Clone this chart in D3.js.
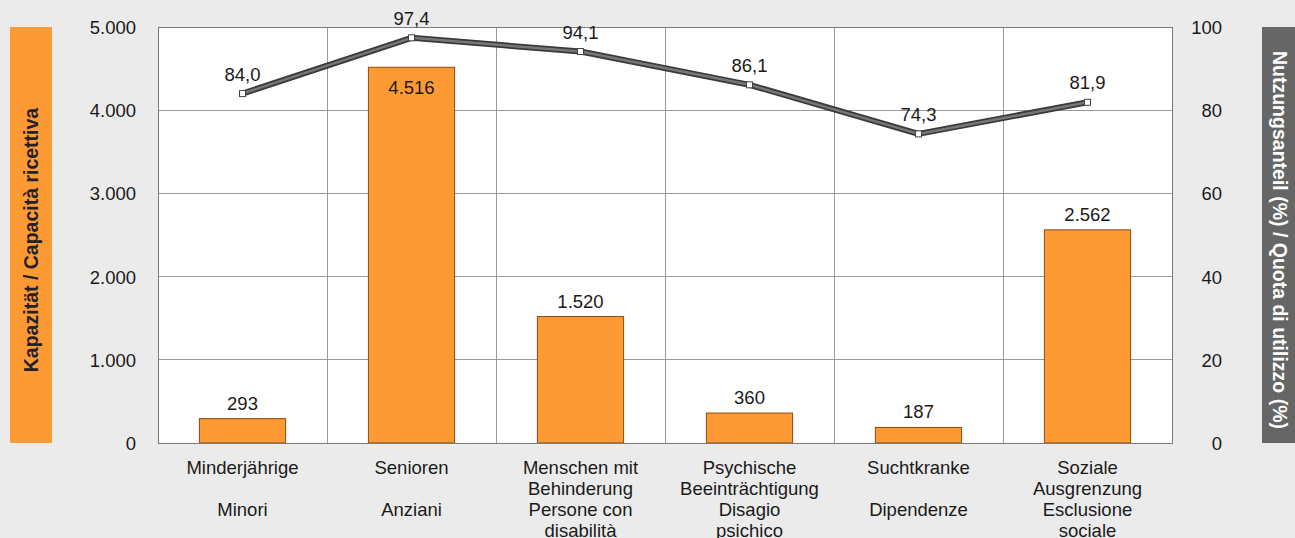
<!DOCTYPE html>
<html><head><meta charset="utf-8">
<script src="https://cdn.jsdelivr.net/npm/d3@7"></script>
<style>
html,body{margin:0;padding:0;background:#ebebeb;}
svg{display:block;font-family:"Liberation Sans",Arial,sans-serif;}
</style></head>
<body>
<svg id="c" width="1295" height="538"></svg>
<script>
const categories = [
  ["Minderjährige","","Minori"],
  ["Senioren","","Anziani"],
  ["Menschen mit","Behinderung","Persone con","disabilità"],
  ["Psychische","Beeinträchtigung","Disagio","psichico"],
  ["Suchtkranke","","Dipendenze"],
  ["Soziale","Ausgrenzung","Esclusione","sociale"]
];
const capacity = [293, 4516, 1520, 360, 187, 2562];
const usage = [84.0, 97.4, 94.1, 86.1, 74.3, 81.9];
const leftTicks = [0, 1000, 2000, 3000, 4000, 5000];
const rightTicks = [0, 20, 40, 60, 80, 100];
const leftTitle = "Kapazität / Capacità ricettiva";
const rightTitle = "Nutzungsanteil (%) / Quota di utilizzo (%)";

const FS = 18.5;
const svg = d3.select("#c");
const m = {l:158, r:1172, t:27, b:443};
const fmtInt = v => d3.format(",")(v).replace(/,/g,".");
const fmtDec = v => d3.format(".1f")(v).replace(".",",");

const x = d3.scaleBand().domain(d3.range(categories.length)).range([m.l,m.r]).paddingInner(0).paddingOuter(0);
const y = d3.scaleLinear().domain([0,5000]).range([m.b,m.t]);
const y2 = d3.scaleLinear().domain([0,100]).range([m.b,m.t]);

svg.append("rect").attr("x",m.l).attr("y",m.t).attr("width",m.r-m.l).attr("height",m.b-m.t).attr("fill","#fff");

svg.append("g").selectAll("line").data(leftTicks).join("line")
  .attr("x1",m.l).attr("x2",m.r).attr("y1",d=>y(d)).attr("y2",d=>y(d))
  .attr("stroke","#999").attr("stroke-width",1).attr("shape-rendering","crispEdges");
svg.append("g").selectAll("line").data(d3.range(categories.length+1)).join("line")
  .attr("x1",d=>m.l+d*x.bandwidth()).attr("x2",d=>m.l+d*x.bandwidth())
  .attr("y1",m.t).attr("y2",m.b)
  .attr("stroke","#999").attr("stroke-width",1).attr("shape-rendering","crispEdges");

const bw = x.bandwidth()*0.51;
svg.append("g").selectAll("rect").data(capacity).join("rect")
  .attr("x",(d,i)=>x(i)+x.bandwidth()/2-bw/2)
  .attr("y",d=>y(d)).attr("width",bw).attr("height",d=>m.b-y(d))
  .attr("fill","#fd9a33").attr("stroke","#8a4a12").attr("stroke-width",1);

svg.append("g").selectAll("text").data(capacity).join("text")
  .attr("x",(d,i)=>x(i)+x.bandwidth()/2)
  .attr("y",d=> d>4000 ? y(d)+27 : y(d)-9)
  .attr("text-anchor","middle").attr("font-size",FS).attr("fill","#1a1a1a")
  .text(d=>fmtInt(d));

svg.append("rect").attr("x",m.l).attr("y",m.t).attr("width",m.r-m.l).attr("height",m.b-m.t)
  .attr("fill","none").attr("stroke","#7a7a7a").attr("stroke-width",1).attr("shape-rendering","crispEdges");

const line = d3.line().x((d,i)=>x(i)+x.bandwidth()/2).y(d=>y2(d));
svg.append("path").datum(usage).attr("d",line).attr("fill","none")
  .attr("stroke","#3a3a3a").attr("stroke-width",6).attr("stroke-linejoin","round");
svg.append("path").datum(usage).attr("d",line).attr("fill","none")
  .attr("stroke","#777").attr("stroke-width",2.5).attr("stroke-linejoin","round");
svg.append("g").selectAll("rect").data(usage).join("rect")
  .attr("x",(d,i)=>x(i)+x.bandwidth()/2-3).attr("y",d=>y2(d)-3)
  .attr("width",6).attr("height",6).attr("fill","#fff").attr("stroke","#444").attr("stroke-width",1);
svg.append("g").selectAll("text").data(usage).join("text")
  .attr("x",(d,i)=>x(i)+x.bandwidth()/2).attr("y",d=>y2(d)-13)
  .attr("text-anchor","middle").attr("font-size",FS).attr("fill","#1a1a1a")
  .text(d=>fmtDec(d));

const ga = svg.append("g").attr("transform",`translate(136,0)`)
  .call(d3.axisLeft(y).tickValues(leftTicks).tickFormat(fmtInt).tickSize(0));
ga.select(".domain").remove();
ga.selectAll("text").attr("font-size",FS).attr("fill","#1a1a1a").attr("font-family","Liberation Sans, Arial, sans-serif").attr("dy","0.35em").attr("x",0);

const gb = svg.append("g").attr("transform",`translate(1222,0)`)
  .call(d3.axisLeft(y2).tickValues(rightTicks).tickFormat(d=>d).tickSize(0));
gb.select(".domain").remove();
gb.selectAll("text").attr("font-size",FS).attr("fill","#1a1a1a").attr("font-family","Liberation Sans, Arial, sans-serif").attr("dy","0.35em").attr("x",0);

const cl = svg.append("g").selectAll("text").data(categories).join("text")
  .attr("text-anchor","middle").attr("font-size",FS).attr("fill","#1a1a1a");
cl.each(function(lines,i){
  const t = d3.select(this);
  lines.forEach((s,k)=>{
    t.append("tspan").attr("x",x(i)+x.bandwidth()/2).attr("y",474+k*21).text(s);
  });
});

svg.append("rect").attr("x",10).attr("y",m.t).attr("width",42).attr("height",m.b-m.t).attr("fill","#fd9a33");
svg.append("text").attr("transform",`translate(38,${(m.t+m.b)/2+5}) rotate(-90)`)
  .attr("text-anchor","middle").attr("font-size",19.5).attr("font-weight","bold").attr("fill","#222")
  .text(leftTitle);

svg.append("rect").attr("x",1262).attr("y",m.t).attr("width",40).attr("height",m.b-m.t).attr("fill","#666");
svg.append("text").attr("transform",`translate(1273,${(m.t+m.b)/2+5}) rotate(90)`)
  .attr("text-anchor","middle").attr("font-size",19.5).attr("font-weight","bold").attr("fill","#fff")
  .text(rightTitle);
</script>
</body></html>
